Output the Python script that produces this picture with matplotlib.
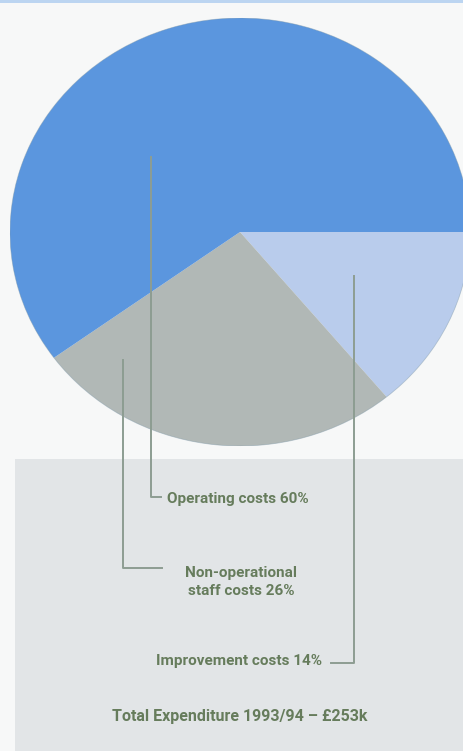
import matplotlib.pyplot as plt
from matplotlib.patches import Rectangle, Ellipse

# Expenditure shares 1993/94 (clockwise from 3 o'clock)
labels = ["Improvement costs 14%", "Non-operational\nstaff costs 26%", "Operating costs 60%"]
shares = [14, 26, 60]
colors = ["#B9CCEC", "#B1B8B6", "#5B96DE"]
total_label = "Total Expenditure 1993/94 \u2013 \u00a3253k"

W, H = 464, 751
text_color = "#667C5C"
line_color = "#8D9D92"
font = ["Roboto", "DejaVu Sans"]

fig = plt.figure(figsize=(W / 100, H / 100), dpi=100)
fig.patch.set_facecolor("#F7F8F8")

# background: top rule and grey panel under the pie
bg = fig.add_axes([0, 0, 1, 1], zorder=0)
bg.set_xlim(0, W)
bg.set_ylim(H, 0)
bg.axis("off")
bg.add_patch(Rectangle((0, 0), W, 2.5, color="#BCD5F1", lw=0))
bg.add_patch(Rectangle((15, 459), W - 15, H - 459, color="#E2E5E7", lw=0))

# pie, stretched slightly wider than tall like the scan
cx, cy, rx, ry = 240, 232, 230, 214
pax = fig.add_axes([(cx - rx) / W, 1 - (cy + ry) / H, 2 * rx / W, 2 * ry / H], zorder=1)
pax.pie(shares, colors=colors, startangle=0, counterclock=False,
        wedgeprops=dict(linewidth=0))
pax.add_patch(Ellipse((0, 0), 2, 2, fill=False, ec="#7E98A8", lw=0.6, alpha=0.45))
pax.set_aspect("auto")
pax.set_xlim(-1, 1)
pax.set_ylim(-1, 1)
pax.axis("off")

# leader lines and labels
ov = fig.add_axes([0, 0, 1, 1], zorder=2)
ov.set_xlim(0, W)
ov.set_ylim(H, 0)
ov.axis("off")
ov.patch.set_alpha(0)

ov.plot([151, 151, 161], [157, 497, 497], color=line_color, lw=1.4)
ov.plot([123, 123, 162], [360, 568, 568], color=line_color, lw=1.4)
ov.plot([354, 354, 331], [276, 663, 663], color=line_color, lw=1.4)

ov.text(167, 499, labels[2], color=text_color, fontsize=11, fontweight="bold",
        family=font, ha="left", va="center")
ov.text(241, 582, labels[1], color=text_color, fontsize=11, fontweight="bold",
        family=font, ha="center", va="center", linespacing=1.45)
ov.text(322, 661, labels[0], color=text_color, fontsize=11, fontweight="bold",
        family=font, ha="right", va="center")
ov.text(240, 717, total_label, color=text_color, fontsize=11.5, fontweight="bold",
        family=font, ha="center", va="center")

fig.savefig("out.png", dpi=100, facecolor=fig.get_facecolor())
